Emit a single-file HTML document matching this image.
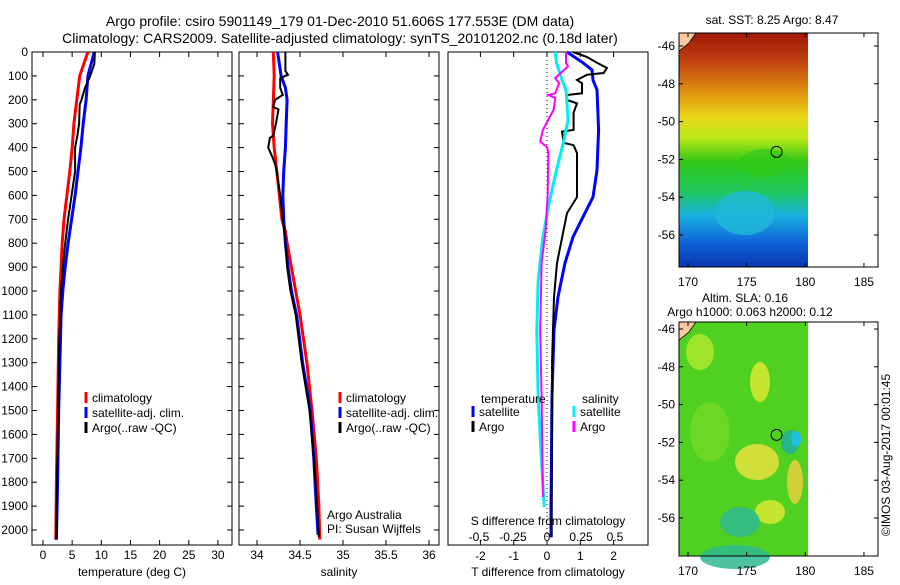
<!DOCTYPE html>
<html><head><meta charset="utf-8"><style>
html,body{margin:0;padding:0;background:#fff}
svg text{font-family:"Liberation Sans",sans-serif;font-size:12px;fill:#000}
</style></head><body>
<svg id="c" width="900" height="580" viewBox="0 0 900 580" xmlns="http://www.w3.org/2000/svg">
<defs>
<linearGradient id="sstg" x1="0" y1="0" x2="0" y2="1">
<stop offset="0" stop-color="#a01808"/><stop offset="0.12" stop-color="#c04010"/><stop offset="0.25" stop-color="#e09010"/>
<stop offset="0.36" stop-color="#e8d818"/><stop offset="0.45" stop-color="#b8e818"/><stop offset="0.55" stop-color="#30c818"/>
<stop offset="0.68" stop-color="#20c860"/><stop offset="0.78" stop-color="#18b0e0"/><stop offset="0.9" stop-color="#1060d8"/><stop offset="1" stop-color="#0838b0"/>
</linearGradient>
</defs>
<g id="root"></g>
</svg>
<script>
// ---- data ----
const depthsClimT=[0,100,200,300,400,500,600,700,800,900,1000,1200,1500,1800,2040];
const tempClim=[7.7,6.3,5.8,5.3,5.0,4.6,4.1,3.6,3.3,3.1,2.9,2.7,2.5,2.3,2.2];
const depthsSatT=[0,100,200,300,400,500,600,700,800,900,1000,1100,1500,1800,2040];
const tempSat=[8.8,7.7,7.4,6.9,6.5,6.0,5.5,4.9,4.3,3.8,3.4,3.1,2.7,2.5,2.3];
const depthsArgoT=[0,50,100,150,200,220,300,350,400,500,600,700,800,900,1000,1200,1500,1800,2040];
const tempArgo=[8.9,8.8,8.1,7.2,6.6,6.3,6.2,5.9,5.5,5.5,4.9,4.3,3.8,3.4,3.1,2.8,2.6,2.4,2.3];
const depthsClimS=[0,100,300,400,500,600,700,750,800,900,1000,1100,1300,1500,1700,1900,2040];
const salClim=[34.19,34.2,34.18,34.2,34.23,34.26,34.29,34.33,34.35,34.4,34.45,34.5,34.58,34.64,34.69,34.72,34.73];
const depthsSatS=[0,100,150,200,300,400,500,600,700,800,900,1000,1100,1300,1500,1700,1900,2020];
const salSat=[34.24,34.28,34.33,34.35,34.34,34.33,34.31,34.3,34.31,34.33,34.36,34.4,34.46,34.53,34.62,34.66,34.69,34.71];
const depthsArgoS=[0,80,95,110,150,180,200,230,240,300,350,360,400,440,470,500,600,700,800,900,1000,1100,1300,1500,1700,1900,2030];
const salArgo=[34.33,34.33,34.36,34.27,34.27,34.3,34.21,34.19,34.25,34.22,34.19,34.15,34.13,34.18,34.21,34.23,34.27,34.3,34.33,34.35,34.39,34.45,34.52,34.61,34.66,34.7,34.72];
const depthsDT=[0,45,75,117,159,326,494,607,690,774,883,1025,1163,1443,1904,2030];
const tDiffSat=[0.6,1.08,1.35,1.38,1.5,1.55,1.5,1.38,1.08,0.78,0.54,0.33,0.21,0.15,0.12,0.12];
const depthsDTA=[0,21,45,67,88,95,117,131,173,180,201,215,254,326,333,380,390,423,607,674,745,883,1025,1303,2030];
const tDiffArgo=[0.78,1.2,1.5,1.8,1.7,1.2,0.9,1.05,1.05,0.6,0.6,0.9,0.8,0.8,0.45,0.5,0.8,0.9,0.9,0.6,0.5,0.3,0.21,0.15,0.14];
const depthsDS=[0,45,117,159,285,380,494,633,774,955,1163,1443,1720,1904];
const sDiffSat=[0.06,0.07,0.11,0.14,0.155,0.12,0.07,0.015,-0.03,-0.065,-0.075,-0.065,-0.04,-0.02];
const depthsDSA=[0,45,60,109,131,173,180,192,240,326,375,397,423,594,745,883,1163,1443,1862];
const sDiffArgo=[0.14,0.14,0.155,0.06,0.09,0.06,0.01,0.06,0.05,-0.03,-0.05,0.0,0.01,0.005,-0.01,-0.04,-0.05,-0.04,-0.03];
const depthTicks=[0,100,200,300,400,500,600,700,800,900,1000,1100,1200,1300,1400,1500,1600,1700,1800,1900,2000];
const tempTicks=[0,5,10,15,20,25,30];
const salTicks=[34,34.5,35,35.5,36];
const tDiffTicks=[-2,-1,0,1,2];
const sDiffTicks=[-0.5,-0.25,0,0.25,0.5];
const lonTicks=[170,175,180,185];
const latTicks=[-46,-48,-50,-52,-54,-56];

const NS='http://www.w3.org/2000/svg';
const root=document.getElementById('root');
function mk(tag,attrs,parent){const e=document.createElementNS(NS,tag);for(const k in attrs)e.setAttribute(k,attrs[k]);(parent||root).appendChild(e);return e;}
function txt(x,y,s,anchor,parent){const t=mk('text',{x:x,y:y,'text-anchor':anchor||'start'},parent);t.textContent=s;return t;}

const Y0=52,Y1=545;
const yD=d=>52+d*0.239;
const xT=v=>43+v*5.83;
const xS=v=>257+(v-34)*86;
const xDT=v=>547+v*33.3;
const xDS=v=>547+v*136;

function frame(x0,x1,name){const r=mk('rect',{x:x0,y:Y0,width:x1-x0,height:Y1-Y0,fill:'none',stroke:'#000','stroke-width':1});

}
function series(ds,vs,xf,color,w,name){
 const pts=ds.map((d,i)=>xf(vs[i]).toFixed(1)+','+yD(d).toFixed(1)).join(' ');
 const p=mk('polyline',{points:pts,fill:'none',stroke:color,'stroke-width':w});
 
 
}
function xticks(x0,x1,ticks,xf,labelY){
 ticks.forEach(v=>{const x=xf(v);mk('line',{x1:x,y1:Y0,x2:x,y2:Y0+5,stroke:'#000'});mk('line',{x1:x,y1:Y1,x2:x,y2:Y1-5,stroke:'#000'});
 if(labelY){const t=txt(x,labelY,String(v),'middle');}});
}
function yticks(x0,x1){depthTicks.forEach(d=>{const y=yD(d);mk('line',{x1:x0,y1:y,x2:x0+5,y2:y,stroke:'#000'});mk('line',{x1:x1,y1:y,x2:x1-5,y2:y,stroke:'#000'});});}

let t=txt(340,26,'Argo profile: csiro 5901149_179 01-Dec-2010 51.606S 177.553E (DM data)','middle');t.style.fontSize='14px';

t=txt(340,43,'Climatology: CARS2009. Satellite-adjusted climatology: synTS_20101202.nc (0.18d later)','middle');t.style.fontSize='14px';


// panel 1
frame(32,232,'temperature-panel');yticks(32,232);xticks(32,232,tempTicks,xT,559);
depthTicks.forEach(d=>{const l=txt(28,yD(d)+4,String(d),'end');});
series(depthsClimT,tempClim,xT,'#f00',3,'temp-climatology-line');
series(depthsSatT,tempSat,xT,'#00f',3,'temp-satellite-line');
series(depthsArgoT,tempArgo,xT,'#000',2,'temp-argo-line');
t=txt(132,576,'temperature (deg C)','middle');

// panel 2
frame(239,439,'salinity-panel');yticks(239,439);xticks(239,439,salTicks,xS,559);
series(depthsClimS,salClim,xS,'#f00',3,'sal-climatology-line');
series(depthsSatS,salSat,xS,'#00f',3,'sal-satellite-line');
series(depthsArgoS,salArgo,xS,'#000',2,'sal-argo-line');
t=txt(339,576,'salinity','middle');
txt(327,519,'Argo Australia');txt(327,533,'PI: Susan Wijffels');

function legend(x,y,items,name){const g=mk('g',{});
 items.forEach((it,i)=>{const yy=y+i*15;mk('line',{x1:x,y1:yy-10,x2:x,y2:yy+1,stroke:it[1],'stroke-width':3},g);txt(x+6,yy,it[0],'start',g);});}
legend(86,402,[['climatology','#f00'],['satellite-adj. clim.','#00f'],['Argo(..raw -QC)','#000']],'temperature-legend');
legend(340,402,[['climatology','#f00'],['satellite-adj. clim.','#00f'],['Argo(..raw -QC)','#000']],'salinity-legend');

// panel 3
frame(448,648,'difference-panel');
tDiffTicks.forEach(v=>{const x=xDT(v);mk('line',{x1:x,y1:Y0,x2:x,y2:Y0+5,stroke:'#000'});mk('line',{x1:x,y1:Y1,x2:x,y2:Y1-5,stroke:'#000'});txt(x,560,String(v),'middle');});
sDiffTicks.forEach(v=>txt(xDS(v),541,String(v),'middle'));
mk('line',{x1:547,y1:Y0,x2:547,y2:Y1,stroke:'#000','stroke-dasharray':'1,3'});
series(depthsDT,tDiffSat,xDT,'#00f',3,'tdiff-satellite-line');
series(depthsDTA,tDiffArgo,xDT,'#000',2,'tdiff-argo-line');
series(depthsDS,sDiffSat,xDS,'#0ee',3,'sdiff-satellite-line');
series(depthsDSA,sDiffArgo,xDS,'#f0f',2,'sdiff-argo-line');
txt(481,403,'temperature');txt(582,403,'salinity');
legend(473,416,[['satellite','#00f'],['Argo','#000']],'tdiff-legend');
legend(574,416,[['satellite','#0ee'],['Argo','#f0f']],'sdiff-legend');
t=txt(548,525,'S difference from climatology','middle');
t=txt(548,576,'T difference from climatology','middle');

// maps
const lonX=v=>688+(v-170)*11.73;
function map(top,latTop,title1,title2,kind,name){
 const latY=v=>latTop+(-46-v)*18.9;
 const g=mk('g',{});
 const bx=679,bw=199,bt=top,bb=top+234;
 if(kind==='sst'){mk('rect',{x:bx,y:bt,width:808-bx,height:bb-bt,fill:'url(#sstg)'},g);
  mk('ellipse',{cx:745,cy:bt+180,rx:30,ry:22,fill:'#20b8d8',opacity:0.8},g);
  mk('ellipse',{cx:765,cy:bt+130,rx:25,ry:14,fill:'#30c818',opacity:0.7},g);}
 else{mk('rect',{x:bx,y:bt,width:808-bx,height:bb-bt,fill:'#50d020'},g);
  [[700,30,14,18,'#b0e830'],[760,60,10,20,'#d8e830'],[757,140,22,18,'#e8e040'],[795,160,8,22,'#e8d040'],[770,190,15,12,'#d8e830'],[790,120,9,12,'#20b0a0'],[740,200,20,15,'#30b890'],[735,235,35,12,'#30b890'],[710,110,20,30,'#70d828']].forEach(e=>
   mk('ellipse',{cx:e[0],cy:bt+e[1],rx:e[2],ry:e[3],fill:e[4],opacity:0.85},g));
  mk('ellipse',{cx:796,cy:bt+117,rx:5,ry:8,fill:'#20c0e0'},g);}
 mk('polygon',{points:`${bx},${bt} ${bx+17},${bt} ${bx+10},${bt+10} ${bx},${bt+18}`,fill:'#f8c8a0',stroke:'#000','stroke-width':0.8},g);
 mk('rect',{x:bx,y:bt,width:bw,height:bb-bt,fill:'none',stroke:'#000'},g);
 lonTicks.forEach(v=>{const x=lonX(v);mk('line',{x1:x,y1:bt,x2:x,y2:bt+4,stroke:'#000'},g);mk('line',{x1:x,y1:bb,x2:x,y2:bb-4,stroke:'#000'},g);txt(x,bb+19,String(v),'middle',g);});
 latTicks.forEach(v=>{const y=latY(v);mk('line',{x1:bx,y1:y,x2:bx+4,y2:y,stroke:'#000'},g);mk('line',{x1:bx+bw,y1:y,x2:bx+bw-4,y2:y,stroke:'#000'},g);txt(675,y+4,String(v),'end',g);});
 mk('circle',{cx:lonX(177.55),cy:latY(-51.6),r:5.5,fill:'none',stroke:'#000'},g);
 if(title2){txt(745,302,title1,'middle',g);txt(750,316,title2,'middle',g);}
 else txt(772,top-9,title1,'middle',g);
}
map(33,46,'sat. SST: 8.25 Argo: 8.47',null,'sst','sst-map');
map(322,329,'Altim. SLA: 0.16','Argo h1000: 0.063 h2000: 0.12','sla','sla-map');
t=txt(0,0,'©IMOS 03-Aug-2017 00:01:45','middle');t.setAttribute('transform','translate(890,455) rotate(-90)');

</script>
</body></html>
